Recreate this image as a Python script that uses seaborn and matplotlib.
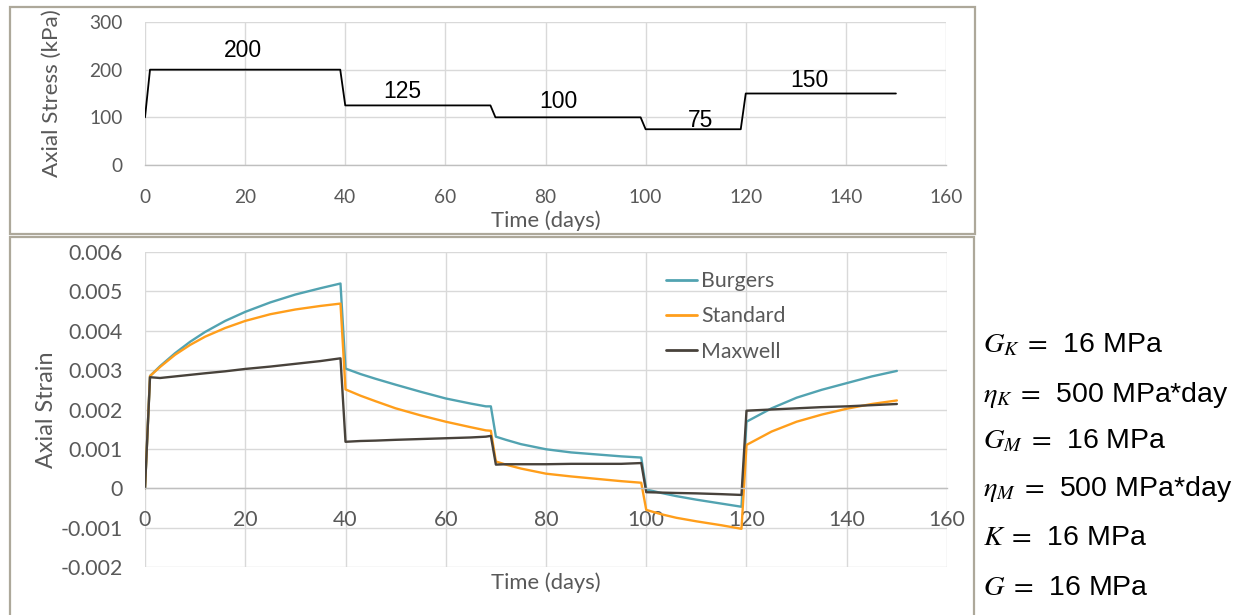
import numpy as np
import pandas as pd
import seaborn as sns
import matplotlib
matplotlib.use("Agg")
import matplotlib.pyplot as plt
from matplotlib.patches import Rectangle
from matplotlib.ticker import FixedLocator, FixedFormatter

# ---------------- data ----------------
stress_t = [0, 1, 39, 40, 69, 70, 99, 100, 119, 120, 150]
stress_kpa = [100, 200, 200, 125, 125, 100, 100, 75, 75, 150, 150]

stress_labels = ["200", "125", "100", "75", "150"]
stress_label_t = [19.5, 51.3, 82.5, 110.9, 132.8]
stress_label_y = [241, 154, 133, 94, 178]

strain_t = [0, 1, 3, 6, 9, 12, 16, 20, 25, 30, 35, 39,
            40, 43, 46, 50, 55, 60, 65, 68, 69,
            70, 72, 75, 80, 85, 90, 95, 99,
            100, 103, 106, 110, 115, 119,
            120, 125, 130, 135, 140, 145, 150]

burgers = [0, 2.85, 3.10, 3.43, 3.72, 3.97, 4.25, 4.48, 4.72, 4.92, 5.08, 5.20,
           3.04, 2.90, 2.78, 2.63, 2.45, 2.28, 2.15, 2.08, 2.08,
           1.31, 1.23, 1.12, 0.99, 0.91, 0.86, 0.81, 0.78,
           -0.03, -0.12, -0.20, -0.29, -0.39, -0.47,
           1.69, 2.03, 2.30, 2.50, 2.67, 2.84, 2.98]

standard = [0, 2.85, 3.08, 3.39, 3.64, 3.85, 4.07, 4.25, 4.42, 4.54, 4.63, 4.69,
            2.51, 2.35, 2.21, 2.03, 1.85, 1.69, 1.55, 1.47, 1.46,
            0.68, 0.60, 0.50, 0.37, 0.30, 0.24, 0.18, 0.14,
            -0.55, -0.66, -0.75, -0.84, -0.94, -1.03,
            1.10, 1.44, 1.69, 1.87, 2.02, 2.14, 2.23]

maxwell = [0, 2.82, 2.80, 2.84, 2.88, 2.92, 2.97, 3.03, 3.09, 3.16, 3.23, 3.30,
           1.18, 1.20, 1.21, 1.23, 1.25, 1.27, 1.29, 1.31, 1.33,
           0.60, 0.61, 0.61, 0.61, 0.62, 0.62, 0.62, 0.64,
           -0.10, -0.11, -0.12, -0.13, -0.15, -0.17,
           1.97, 2.00, 2.03, 2.06, 2.08, 2.11, 2.14]

models = ["Burgers", "Standard", "Maxwell"]
model_colors = ["#52A3B1", "#FF9E1B", "#48423B"]

x_ticks = [0, 20, 40, 60, 80, 100, 120, 140, 160]
stress_ticks = [0, 100, 200, 300]
strain_ticks = [-0.002, -0.001, 0, 0.001, 0.002, 0.003, 0.004, 0.005, 0.006]
strain_tick_labels = ["-0.002", "-0.001", "0", "0.001", "0.002", "0.003",
                      "0.004", "0.005", "0.006"]

param_lines = [r"$G_K\;=\,$ 16 MPa", r"$\eta_K\;=\,$ 500 MPa*day",
               r"$G_M\;=\,$ 16 MPa", r"$\eta_M\;=\,$ 500 MPa*day",
               r"$K\;=\,$ 16 MPa", r"$G\;=\,$ 16 MPa"]

# ---------------- style ----------------
sns.set_style("white")
plt.rcParams["font.family"] = ["Lato", "DejaVu Sans"]
plt.rcParams["mathtext.fontset"] = "stix"

W, H = 1246, 615
fig = plt.figure(figsize=(W / 100, H / 100), dpi=100)

def fx(px):
    return px / W

def fy(py):
    return (H - py) / H

tick_col = "#595959"
grid_col = "#D9D9D9"
box_col = "#ADA89A"

# panel boxes
fig.patches.append(Rectangle((fx(10), fy(234)), fx(975) - fx(10), fy(7) - fy(234),
                             transform=fig.transFigure, fill=False,
                             edgecolor=box_col, lw=1.6))
fig.patches.append(Rectangle((fx(10), fy(620)), fx(974) - fx(10), fy(237) - fy(620),
                             transform=fig.transFigure, fill=False,
                             edgecolor=box_col, lw=1.6, clip_on=False))

# ---------------- top: stress ----------------
ax1 = fig.add_axes([fx(145), fy(165), fx(946) - fx(145), fy(22) - fy(165)])
df_s = pd.DataFrame({"t": stress_t, "s": stress_kpa})
sns.lineplot(data=df_s, x="t", y="s", ax=ax1, color="black", lw=1.3,
             sort=False, estimator=None)
ax1.set_xlim(0, 160)
ax1.set_ylim(0, 300)
ax1.xaxis.set_major_locator(FixedLocator(x_ticks))
ax1.yaxis.set_major_locator(FixedLocator(stress_ticks))
ax1.grid(True, color=grid_col, lw=1.0)
ax1.set_axisbelow(True)
for sp in ["top", "right", "left"]:
    ax1.spines[sp].set_visible(False)
ax1.spines["bottom"].set_color("#BFBFBF")
ax1.spines["bottom"].set_linewidth(1.0)
ax1.tick_params(axis="both", length=0, labelsize=13.8, colors=tick_col)
ax1.tick_params(axis="x", pad=17)
ax1.tick_params(axis="y", pad=16)
ax1.set_xlabel("Time (days)", fontsize=15.8, color=tick_col, va="center")
ax1.set_ylabel("Axial Stress (kPa)", fontsize=16.2, color=tick_col, va="center")
ax1.xaxis.set_label_coords(0.5, -(221 - 165) / 143)
ax1.yaxis.set_label_coords((52 - 145) / 801, 0.5)
for lab, tx, ty in zip(stress_labels, stress_label_t, stress_label_y):
    ax1.text(tx, ty, lab, ha="center", va="center", fontsize=16.5,
             family=["Liberation Sans", "DejaVu Sans"], color="black")

# ---------------- bottom: strain ----------------
ax2 = fig.add_axes([fx(145), fy(567), fx(947) - fx(145), fy(252) - fy(567)])
rows = []
for name, vals in zip(models, [burgers, standard, maxwell]):
    for t, v in zip(strain_t, vals):
        rows.append({"t": t, "strain": v / 1000.0, "model": name})
df = pd.DataFrame(rows)
sns.lineplot(data=df, x="t", y="strain", hue="model", hue_order=models,
             palette=dict(zip(models, model_colors)), ax=ax2, lw=1.7,
             sort=False, estimator=None)
ax2.set_xlim(0, 160)
ax2.set_ylim(-0.002, 0.006)
ax2.xaxis.set_major_locator(FixedLocator(x_ticks))
ax2.yaxis.set_major_locator(FixedLocator(strain_ticks))
ax2.yaxis.set_major_formatter(FixedFormatter(strain_tick_labels))
ax2.grid(True, color=grid_col, lw=1.0)
ax2.set_axisbelow(True)
for sp in ["top", "right", "left"]:
    ax2.spines[sp].set_visible(False)
ax2.spines["bottom"].set_position(("data", 0))
ax2.spines["bottom"].set_color("#BFBFBF")
ax2.spines["bottom"].set_linewidth(1.0)
ax2.tick_params(axis="both", length=0, labelsize=15.3, colors=tick_col)
ax2.tick_params(axis="x", pad=16)
ax2.tick_params(axis="y", pad=16)
ax2.set_xlabel("Time (days)", fontsize=15.8, color=tick_col, va="center")
ax2.set_ylabel("Axial Strain", fontsize=16.8, color=tick_col, va="center")
ax2.xaxis.set_label_coords(0.5, -(583 - 567) / 315)
ax2.yaxis.set_label_coords((46 - 145) / 802, 0.5)

leg = ax2.legend(loc="upper left", bbox_to_anchor=((666 - 145) / 802, (567 - 271) / 315),
                 frameon=False, fontsize=15.4, handlelength=1.45, handletextpad=0.2,
                 labelspacing=0.72, borderpad=0, borderaxespad=0, title=None)
for txt in leg.get_texts():
    txt.set_color(tick_col)
for ln in leg.get_lines():
    ln.set_linewidth(2.0)

# ---------------- parameters text ----------------
param_y = [345, 395, 441, 489, 538, 588]
for s, py in zip(param_lines, param_y):
    fig.text(fx(983), fy(py), s, ha="left", va="center", fontsize=20.5,
             family=["Liberation Sans", "DejaVu Sans"], color="black")

fig.savefig("out.png", dpi=100)
